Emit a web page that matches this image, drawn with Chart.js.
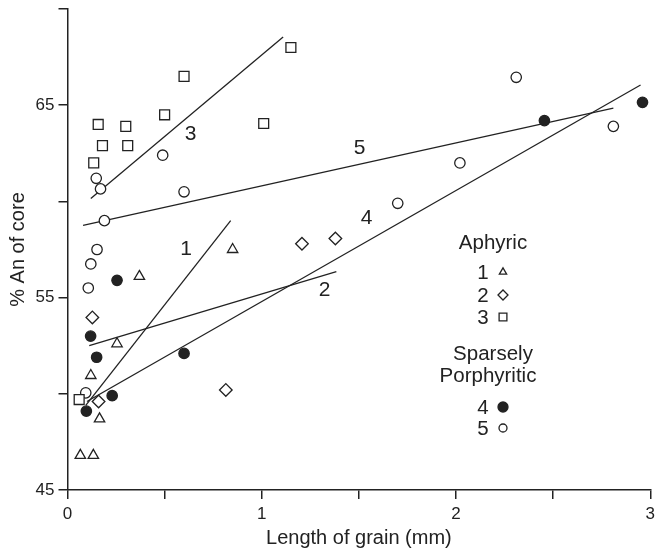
<!DOCTYPE html>
<html>
<head>
<meta charset="utf-8">
<script src="https://cdn.jsdelivr.net/npm/chart.js@4.4.0/dist/chart.umd.min.js"></script>
<style>
  html, body { margin: 0; padding: 0; background: #fff; overflow: hidden; }
  #frame { width: 656px; height: 551px; overflow: hidden; }
  /* a little wider than the frame so the last x label is cut like the original */
  #wrap { width: 660px; height: 551px; position: relative; }
</style>
</head>
<body>
<div id="frame"><div id="wrap"><canvas id="chart"></canvas></div></div>
<script>
// Series 1-3: aphyric; 4-5: sparsely porphyritic
const s1x = [0.85, 0.37, 0.255, 0.12, 0.165, 0.066, 0.133];
const s1y = [57.5, 56.1, 52.6, 50.95, 48.7, 46.8, 46.8];

const s2x = [0.128, 0.16, 0.815, 1.207, 1.379];
const s2y = [53.97, 49.6, 50.2, 57.8, 58.07];

const s3x = [1.15, 0.60, 0.50, 1.01, 0.158, 0.30, 0.18, 0.31, 0.135, 0.06];
const s3y = [68.0, 66.5, 64.5, 64.05, 64.0, 63.9, 62.9, 62.9, 62.0, 49.7];

const s4x = [0.255, 0.119, 0.15, 0.60, 0.23, 0.097, 2.455, 2.96];
const s4y = [55.9, 53.0, 51.9, 52.1, 49.9, 49.1, 64.2, 65.15];

const s5x = [0.49, 0.148, 0.17, 0.60, 0.19, 0.152, 0.12, 0.107, 0.094, 2.31, 2.81, 2.02, 1.70];
const s5y = [62.4, 61.2, 60.65, 60.5, 59.0, 57.5, 56.75, 55.5, 50.05, 66.45, 63.9, 62.0, 59.9];

// fitted lines, start and end points
const fitX = [[0.094, 0.84], [0.112, 1.384], [0.12, 1.11], [0.1, 2.95], [0.08, 2.81]];
const fitY = [[49.4, 59.0], [52.5, 56.35], [60.15, 68.55], [49.6, 66.05], [58.75, 64.85]];

const xTicks = [0, 1, 2, 3];
const yTicks = [45, 55, 65];

const INK = '#222';
const FONT = '"Liberation Sans", Arial, sans-serif';

function pts(xs, ys) {
  return xs.map((x, i) => ({ x: x, y: ys[i] }));
}

const markerStyles = [
  { pointStyle: 'triangle', pointRadius: 6, backgroundColor: '#fff' },
  { pointStyle: 'rectRot', pointRadius: 6.3, backgroundColor: '#fff' },
  { pointStyle: 'rect', pointRadius: 7, backgroundColor: '#fff' },
  { pointStyle: 'circle', pointRadius: 5.2, backgroundColor: INK },
  { pointStyle: 'circle', pointRadius: 5.2, backgroundColor: '#fff' }
];

const seriesData = [pts(s1x, s1y), pts(s2x, s2y), pts(s3x, s3y), pts(s4x, s4y), pts(s5x, s5y)];

const datasets = [];
seriesData.forEach((d, i) => {
  datasets.push(Object.assign({
    label: 'Series ' + (i + 1),
    data: d,
    borderColor: INK,
    borderWidth: 1.3,
    pointHoverRadius: 6,
    order: 1
  }, markerStyles[i]));
});
fitX.forEach((xs, i) => {
  datasets.push({
    label: 'Fit ' + (i + 1),
    data: pts(xs, fitY[i]),
    showLine: true,
    borderColor: INK,
    borderWidth: 1.3,
    pointRadius: 0,
    pointHoverRadius: 0,
    order: 5
  });
});

// line numbers, placed in data units
const lineLabels = [
  { t: '1', x: 0.61, y: 57.5 },
  { t: '2', x: 1.324, y: 55.36 },
  { t: '3', x: 0.633, y: 63.5 },
  { t: '4', x: 1.54, y: 59.15 },
  { t: '5', x: 1.504, y: 62.76 }
];

const annotate = {
  id: 'annotate',
  afterDatasetsDraw(chart) {
    const ctx = chart.ctx;
    const xs = chart.scales.x, ys = chart.scales.y;
    ctx.save();
    ctx.fillStyle = INK;
    ctx.textAlign = 'center';
    ctx.textBaseline = 'middle';
    ctx.font = '21px ' + FONT;
    lineLabels.forEach(l => {
      ctx.fillText(l.t, xs.getPixelForValue(l.x), ys.getPixelForValue(l.y));
    });

    // legend block
    ctx.font = '20.5px ' + FONT;
    ctx.fillText('Aphyric', 493, 243);
    ctx.fillText('Sparsely', 493, 354);
    ctx.fillText('Porphyritic', 488, 376);
    const rows = [
      { n: '1', y: 272, s: 0 },
      { n: '2', y: 295, s: 1 },
      { n: '3', y: 317, s: 2 },
      { n: '4', y: 407, s: 3 },
      { n: '5', y: 428, s: 4 }
    ];
    const small = [4.2, 5, 5.5, 5, 4];
    rows.forEach(r => {
      ctx.fillStyle = INK;
      ctx.fillText(r.n, 483, r.y + 1);
      const m = markerStyles[r.s];
      ctx.strokeStyle = INK;
      ctx.lineWidth = 1.3;
      ctx.fillStyle = m.backgroundColor;
      Chart.helpers.drawPoint(ctx, { pointStyle: m.pointStyle, radius: small[r.s], rotation: 0, borderWidth: 1.3 }, 503, r.y);
    });
    ctx.restore();
  }
};

new Chart(document.getElementById('chart'), {
  type: 'scatter',
  data: { datasets: datasets },
  options: {
    responsive: true,
    maintainAspectRatio: false,
    animation: false,
    layout: { padding: { top: 9, right: 1, left: 0, bottom: 0 } },
    plugins: {
      legend: { display: false },
      tooltip: { enabled: false }
    },
    scales: {
      x: {
        type: 'linear',
        min: 0,
        max: 3,
        afterBuildTicks: s => {
          s.ticks = [0, 0.5, 1, 1.5, 2, 2.5, 3].map(v => ({ value: v }));
        },
        border: { color: INK, width: 1.5 },
        grid: { drawOnChartArea: false, drawTicks: true, tickLength: 9, color: INK, lineWidth: 1.5 },
        ticks: {
          callback: v => xTicks.includes(v) ? String(v) : '',
          color: INK,
          font: { family: FONT, size: 17 },
          padding: 5,
          maxRotation: 0,
          autoSkip: false
        },
        title: {
          display: true,
          text: 'Length of grain (mm)',
          color: INK,
          font: { family: FONT, size: 20 },
          padding: { top: 1, bottom: 1 }
        },
        afterFit: s => { s.height = 61; }
      },
      y: {
        type: 'linear',
        min: 45,
        max: 70,
        afterBuildTicks: s => {
          s.ticks = [45, 50, 55, 60, 65, 70].map(v => ({ value: v }));
        },
        border: { color: INK, width: 1.5 },
        grid: { drawOnChartArea: false, drawTicks: true, tickLength: 9, color: INK, lineWidth: 1.5 },
        ticks: {
          callback: v => yTicks.includes(v) ? String(v) : '',
          color: INK,
          font: { family: FONT, size: 17 },
          padding: 4
        },
        title: {
          display: true,
          text: '% An of core',
          color: INK,
          font: { family: FONT, size: 20 },
          padding: { top: 6, bottom: 0 }
        },
        afterFit: s => { s.width = 67.5; s.paddingTop = 0; }
      }
    }
  },
  plugins: [annotate]
});
</script>
</body>
</html>
